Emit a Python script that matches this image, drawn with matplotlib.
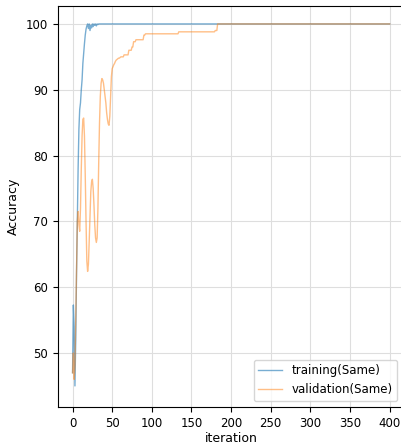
import numpy as np
import matplotlib
matplotlib.use("Agg")
import matplotlib.pyplot as plt

# ---- data ----
train_early = [47.0, 57.3, 54.0, 45.0, 52.0, 62.0, 70.0, 78.0, 84.0, 87.0,
               88.0, 90.0, 91.5, 94.0, 95.6, 97.0, 98.3, 99.2, 99.7, 100.0,
               99.3, 100.0, 99.0, 99.8, 99.4, 100.0, 99.6, 100.0, 99.8, 100.0,
               99.7, 100.0, 99.9, 100.0, 100.0, 100.0]
train_tail_level = 100.0

val_early = [47.0, 50.0, 46.0, 48.0, 55.0, 63.0, 70.0, 71.5, 69.5, 68.5,
             72.0, 78.0, 83.0, 85.5, 85.7, 83.0, 77.0, 70.0, 64.0, 62.4,
             63.5, 67.0, 71.0, 74.5, 76.0, 76.4, 75.0, 72.5, 69.5, 67.5,
             66.8, 67.5, 72.0, 79.0, 85.0, 89.0, 91.0, 91.7, 91.5, 91.0,
             90.0, 89.0, 88.0, 86.5, 85.5, 84.8, 84.6, 86.0, 89.0, 92.0,
             93.2, 93.5, 93.8, 94.0, 94.3, 94.5, 94.6, 94.7, 94.8, 94.8,
             94.9]
val_levels = [95.0, 95.3, 96.0, 96.5, 97.3, 97.6, 98.3, 98.5, 98.8, 99.0, 100.0]
val_runs = [4, 6, 4, 2, 3, 10, 2, 42, 46, 3, 218]

n_iter = 401
train = train_early + [train_tail_level] * (n_iter - len(train_early))
val = list(val_early)
for lvl, n in zip(val_levels, val_runs):
    val += [lvl] * n
iters = np.arange(n_iter)

# ---- plot ----
W, H = 401, 445
fig = plt.figure(figsize=(W / 100, H / 100), dpi=100)
ax = fig.add_axes([57.5 / W, 38 / H, 348 / W, 401.5 / H])

ax.plot(iters, train, color="tab:blue", alpha=0.6, lw=1.0, label="training(Same)")
ax.plot(iters, val, color="tab:orange", alpha=0.5, lw=1.0, label="validation(Same)")

ax.set_xlim(-19, 420)
ax.set_ylim(41.8, 102.8)
ax.set_xticks([0, 50, 100, 150, 200, 250, 300, 350, 400])
ax.set_yticks([50, 60, 70, 80, 90, 100])
ax.spines["right"].set_visible(False)
ax.grid(True, color="#dedede", lw=0.8)
ax.tick_params(labelsize=8.5)
ax.set_xlabel("iteration", fontsize=9, labelpad=2)
ax.set_ylabel("Accuracy", fontsize=9)
ax.legend(loc="lower right", fontsize=8.5, bbox_to_anchor=(0.993, 0.0))

fig.savefig("out.png", dpi=100)
